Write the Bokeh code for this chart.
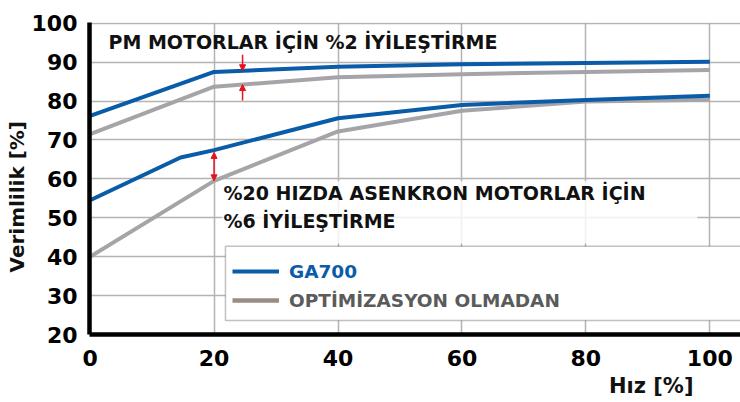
import numpy as np
from bokeh.plotting import figure
from bokeh.models import (Range1d, Label, Legend, LegendItem, Arrow, NormalHead,
                          BoxAnnotation, FixedTicker, Title)
from bokeh.embed import file_html
from bokeh.resources import INLINE

# ---------------- data ----------------
pm_speed = [0, 20, 40, 60, 80, 100]
pm_ga700 = [76.2, 87.5, 88.8, 89.5, 89.8, 90.1]
pm_base = [71.5, 83.7, 86.1, 86.9, 87.5, 88.0]

im_speed_ga700 = [0, 14.6, 20, 40, 60, 80, 100]
im_ga700 = [54.5, 65.5, 67.4, 75.6, 79.0, 80.3, 81.4]
im_speed_base = [0, 20, 40, 60, 80, 100]
im_base = [40.0, 59.5, 72.2, 77.5, 79.9, 80.35]

x_ticks = [0, 20, 40, 60, 80, 100]
y_ticks = [20, 30, 40, 50, 60, 70, 80, 90, 100]

text_pm = "PM MOTORLAR İÇİN %2 İYİLEŞTİRME"
text_im1 = "%20 HIZDA ASENKRON MOTORLAR İÇİN"
text_im2 = "%6 İYİLEŞTİRME"
legend_labels = ["GA700", "OPTİMİZASYON OLMADAN"]
x_title = "Hız [%]"
y_title = "Verimlilik [%]"

# annotation anchors
pm_arrow_x = 24.6
pm_arrow_len = 4.1
im_arrow_x = 20

BLUE = "#0b5ca8"
GRAY = "#a5a5a9"
LEG_GRAY = "#9c8a84"
RED = "#e5131d"
FONT = "DejaVu Sans"

p = figure(width=740, height=402, output_backend="svg", toolbar_location=None,
           x_range=Range1d(-0.1, 104.95), y_range=Range1d(20, 100.2),
           min_border_left=89, min_border_right=0, min_border_top=22,
           min_border_bottom=68)
p.outline_line_color = None
p.background_fill_color = "white"
p.border_fill_color = "white"

# grid
p.xgrid.ticker = FixedTicker(ticks=x_ticks)
p.ygrid.ticker = FixedTicker(ticks=y_ticks)
for g in (p.xgrid, p.ygrid):
    g.grid_line_color = "#b3b3b3"
    g.grid_line_width = 1.5

# axes
for ax in (p.xaxis, p.yaxis):
    ax.axis_line_width = 4.5
    ax.axis_line_color = "black"
    ax.major_tick_line_color = None
    ax.minor_tick_line_color = None
    ax.major_label_text_font = FONT
    ax.major_label_text_font_style = "bold"
    ax.major_label_text_font_size = "22px"
    ax.major_label_text_color = "black"
p.xaxis.ticker = FixedTicker(ticks=x_ticks)
p.yaxis.ticker = FixedTicker(ticks=y_ticks)
p.xaxis.major_label_standoff = 9
p.yaxis.major_label_standoff = 6

# axis titles as side titles
p.add_layout(Title(text=y_title, align="left", offset=62, standoff=0,
                   text_font=FONT, text_font_style="bold",
                   text_font_size="20px", text_color="#111111"), "left")
p.add_layout(Title(text=x_title, align="right", offset=47, standoff=6,
                   text_font=FONT, text_font_style="bold",
                   text_font_size="21px", text_color="#111111"), "below")

# data lines
p.line(pm_speed, pm_base, line_color=GRAY, line_width=4)
p.line(im_speed_base, im_base, line_color=GRAY, line_width=4)
p.line(pm_speed, pm_ga700, line_color=BLUE, line_width=4)
p.line(im_speed_ga700, im_ga700, line_color=BLUE, line_width=4)

# arrows derived from data
pm_top = float(np.interp(pm_arrow_x, pm_speed, pm_ga700))
pm_bot = float(np.interp(pm_arrow_x, pm_speed, pm_base))
p.add_layout(Arrow(end=NormalHead(size=6, fill_color=RED, line_color=RED),
                   x_start=pm_arrow_x, y_start=pm_top + pm_arrow_len,
                   x_end=pm_arrow_x, y_end=pm_top,
                   line_color=RED, line_width=1.5))
p.add_layout(Arrow(end=NormalHead(size=6, fill_color=RED, line_color=RED),
                   x_start=pm_arrow_x, y_start=pm_bot - pm_arrow_len,
                   x_end=pm_arrow_x, y_end=pm_bot,
                   line_color=RED, line_width=1.5))
im_top = float(np.interp(im_arrow_x, im_speed_ga700, im_ga700))
im_bot = float(np.interp(im_arrow_x, im_speed_base, im_base))
p.add_layout(Arrow(start=NormalHead(size=6, fill_color=RED, line_color=RED),
                   end=NormalHead(size=6, fill_color=RED, line_color=RED),
                   x_start=im_arrow_x, y_start=im_top - 0.6,
                   x_end=im_arrow_x, y_end=im_bot,
                   line_color=RED, line_width=1.5))

# semi-transparent backdrop for the lower annotation text
p.add_layout(BoxAnnotation(left=21.3, right=98.0, bottom=43.4, top=59.4,
                           fill_color="white", fill_alpha=0.8, line_color=None))

# texts (screen units relative to the plot frame)
def txt(s, x, y, size="19px", color="#111111", **kw):
    lab = Label(x=x, y=y, x_units="screen", y_units="screen", text=s,
                text_font=FONT, text_font_style="bold", text_font_size=size,
                text_color=color, text_baseline="middle", **kw)
    p.add_layout(lab)
    return lab

txt(text_pm, 19, 293)
txt(text_im1, 134, 142)
txt(text_im2, 134, 113.5)

# legend box
p.add_layout(BoxAnnotation(left=21.84, right=120, bottom=23.6, top=42.7,
                           fill_color="white", fill_alpha=1.0,
                           line_color="#333333", line_width=1.5))

# legend proxies (single NaN point so nothing is drawn in the plot)
r_leg1 = p.line(np.array([np.nan]), np.array([np.nan]), line_color=BLUE, line_width=4)
r_leg2 = p.line(np.array([np.nan]), np.array([np.nan]), line_color=LEG_GRAY, line_width=4.5)
for r, lab, col, yb in ((r_leg1, legend_labels[0], BLUE, 51),
                        (r_leg2, legend_labels[1], "#5b5b5b", 22)):
    lg = Legend(items=[LegendItem(label=lab, renderers=[r])],
                location=(143, yb), padding=0, margin=0, spacing=0,
                glyph_width=47, glyph_height=24, label_height=24,
                label_standoff=10, border_line_color=None,
                background_fill_alpha=0,
                label_text_font=FONT, label_text_font_style="bold",
                label_text_font_size="18.5px", label_text_color=col)
    p.add_layout(lg)

open("out.html", "w").write(file_html(p, INLINE))
